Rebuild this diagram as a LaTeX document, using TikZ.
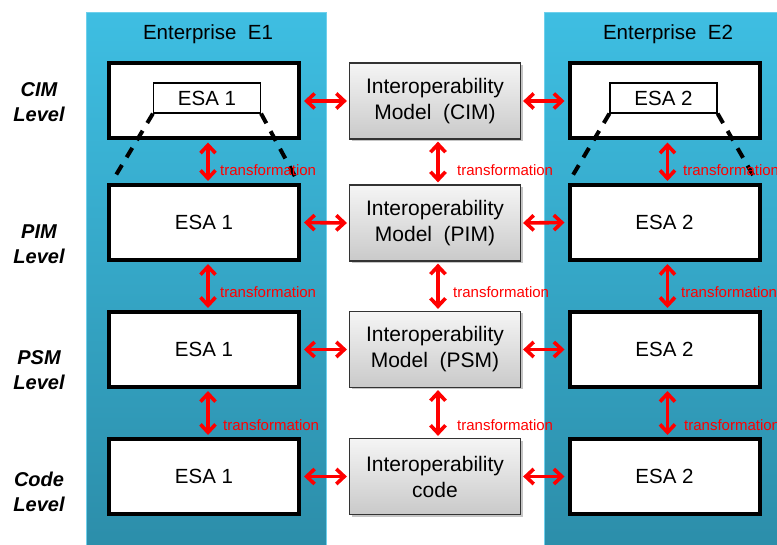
\documentclass[tikz,border=0pt]{standalone}
\usepackage{fontspec}
\setmainfont{Liberation Sans}
\usetikzlibrary{arrows.meta,shadows}
\definecolor{coltop}{RGB}{62,190,226}
\definecolor{colbot}{RGB}{44,142,170}
\definecolor{coledge}{RGB}{110,208,236}
\definecolor{arred}{RGB}{255,0,0}
\tikzset{
  column/.style={rectangle, inner sep=0pt, top color=coltop, bottom color=colbot, draw=coledge, line width=1pt, minimum width=240pt, minimum height=533pt},
  esabox/.style={rectangle, draw=black, line width=4pt, fill=white, minimum width=190pt, minimum height=75pt, inner sep=0pt, font=\fontsize{20.5}{24}\selectfont},
  innerbox/.style={rectangle, draw=black, line width=1.2pt, fill=white, minimum width=107pt, minimum height=30pt, inner sep=0pt, font=\fontsize{20.5}{24}\selectfont},
  iopbox/.style={rectangle, draw=black!80, line width=1.2pt, top color=gray!8, bottom color=gray!42, minimum width=171pt, minimum height=76pt, inner sep=0pt, align=center, font=\fontsize{21}{26}\selectfont, drop shadow={shadow xshift=2pt, shadow yshift=-2pt, opacity=0.45}},
  levellab/.style={align=center, font=\fontsize{20}{25.5}\selectfont\bfseries\itshape},
  enttitle/.style={font=\fontsize{20.5}{24}\selectfont},
  tlab/.style={anchor=west, text=arred, inner sep=0pt, font=\fontsize{15}{16}\selectfont},
  arr/.style={draw=arred, line width=3.6pt, {Straight Barb[length=8pt,width=15pt]}-{Straight Barb[length=8pt,width=15pt]}},
  dashline/.style={draw=black, line width=4pt, dash pattern=on 11pt off 9pt}
}
\begin{document}
\begin{tikzpicture}[x=1pt,y=-1pt]
\useasboundingbox (0,0) rectangle (777,545);
\fill[white] (0,0) rectangle (777,545);
% columns
\node[column] (e1col) at (206,279) {};
\node[column, minimum width=250pt] (e2col) at (669,279) {};
\node[enttitle] (e1t) at (208,34) {Enterprise\ \ E1};
\node[enttitle] (e2t) at (668,34) {Enterprise\ \ E2};
% level labels
\node[levellab] (lcim) at (39,102) {CIM\\Level};
\node[levellab] (lpim) at (39,244) {PIM\\Level};
\node[levellab] (lpsm) at (39,370) {PSM\\Level};
\node[levellab] (lcode) at (39,492) {Code\\Level};
% left boxes
\node[esabox] (l1) at (204,101) {};
\node[esabox] (l2) at (204,222.5) {ESA 1};
\node[esabox] (l3) at (204,349.5) {ESA 1};
\node[esabox] (l4) at (204,476.5) {ESA 1};
% right boxes
\node[esabox] (r1) at (664.5,101) {};
\node[esabox] (r2) at (664.5,222.5) {ESA 2};
\node[esabox] (r3) at (664.5,349.5) {ESA 2};
\node[esabox] (r4) at (664.5,476.5) {ESA 2};
% inner boxes
\node[innerbox] (li) at (207,98) {ESA 1};
\node[innerbox] (ri) at (663.5,98) {ESA 2};
% middle boxes
\node[iopbox] (m1) at (435,101) {Interoperability\\Model\ \ (CIM)};
\node[iopbox] (m2) at (435,223) {Interoperability\\Model\ \ (PIM)};
\node[iopbox] (m3) at (435,349.5) {Interoperability\\Model\ \ (PSM)};
\node[iopbox] (m4) at (435,476.5) {Interoperability\\code};
% dashed fan lines
\coordinate (lfl) at (113,180);
\coordinate (lfr) at (298,182);
\coordinate (rfl) at (570,180);
\coordinate (rfr) at (757,182);
\draw[dashline] (li.south west) -- (lfl);
\draw[dashline] (li.south east) -- (lfr);
\draw[dashline] (ri.south west) -- (rfl);
\draw[dashline] (ri.south east) -- (rfr);
% horizontal arrows
\foreach \i in {1,2,3,4}{
  \draw[arr, shorten <=3pt, shorten >=2pt] (l\i.east) -- (m\i.west);
  \draw[arr, shorten <=2pt, shorten >=3pt] (m\i.east) -- (r\i.west);
}
% vertical arrows
\foreach \i/\j in {1/2,2/3,3/4}{
  \draw[arr, shorten <=2pt, shorten >=2pt] ([xshift=4pt]l\i.south) -- ([xshift=4pt]l\j.north);
  \draw[arr, shorten <=2pt, shorten >=2pt] ([xshift=3pt]m\i.south) -- ([xshift=3pt]m\j.north);
  \draw[arr, shorten <=2pt, shorten >=2pt] ([xshift=3pt]r\i.south) -- ([xshift=3pt]r\j.north);
}
% transformation labels
\node[tlab] (t1) at (220,170) {transformation};
\node[tlab] (t2) at (220,292) {transformation};
\node[tlab] (t3) at (223,425) {transformation};
\node[tlab] (t4) at (457,170) {transformation};
\node[tlab] (t5) at (453,292) {transformation};
\node[tlab] (t6) at (457,425) {transformation};
\node[tlab] (t7) at (683,170) {transformation};
\node[tlab] (t8) at (681,292) {transformation};
\node[tlab] (t9) at (684,425) {transformation};
\end{tikzpicture}
\end{document}
